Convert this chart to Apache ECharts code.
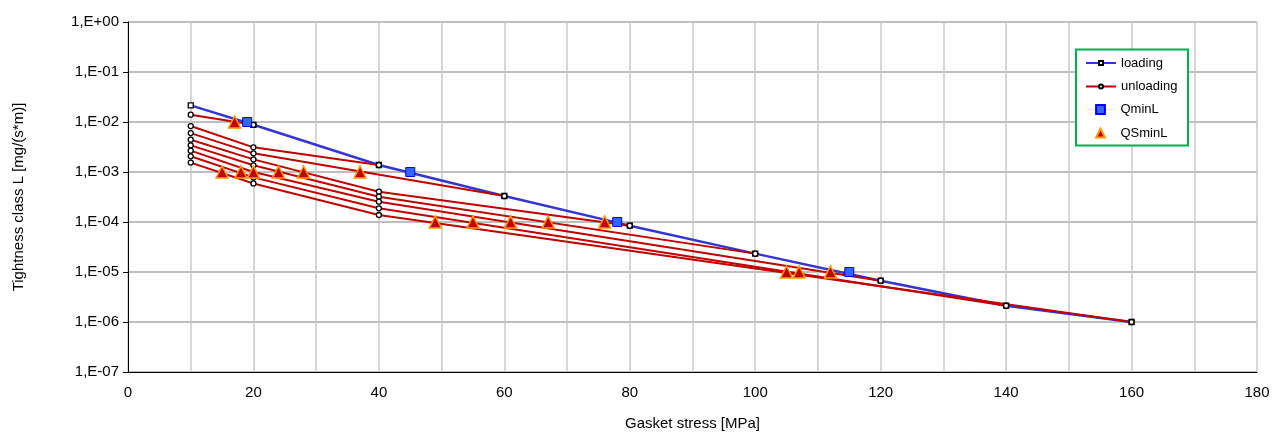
<!DOCTYPE html>
<html>
<head>
<meta charset="utf-8">
<script src="https://cdn.jsdelivr.net/npm/echarts@6/dist/echarts.min.js"></script>
<style>
html,body{margin:0;padding:0;background:#fff;}
#chart{width:1280px;height:432px;}
</style>
</head>
<body>
<div id="chart"></div>
<script>
// ---- data ----
const loadingX = [10, 20, 40, 60, 80, 100, 120, 140, 160];
const loadingL = [2.15e-2, 8.8e-3, 1.38e-3, 3.31e-4, 8.45e-5, 2.33e-5, 6.7e-6, 2.12e-6, 1.0e-6];

// unloading curves: stress points and leakage values
const unload20X = [20, 10];            const unload20L = [8.8e-3, 1.40e-2];
const unload40X = [40, 20, 10];        const unload40L = [1.38e-3, 3.11e-3, 8.3e-3];
const unload60X = [60, 20, 10];        const unload60L = [3.31e-4, 2.36e-3, 6.0e-3];
const unload80X = [80, 40, 20, 10];    const unload80L = [8.45e-5, 4.04e-4, 1.79e-3, 4.43e-3];
const unload100X = [100, 40, 20, 10];  const unload100L = [2.33e-5, 3.21e-4, 1.36e-3, 3.41e-3];
const unload120X = [120, 40, 20, 10];  const unload120L = [6.7e-6, 2.55e-4, 1.0e-3, 2.67e-3];
const unload140X = [140, 40, 20, 10];  const unload140L = [2.12e-6, 1.88e-4, 7.8e-4, 2.06e-3];
const unload160X = [160, 40, 20, 10];  const unload160L = [1.0e-6, 1.38e-4, 5.9e-4, 1.54e-3];

const qminX = [19, 45, 78, 115];
const qminL = [1e-2, 1e-3, 1e-4, 1e-5];

const qsminX = [17, 15, 18, 20, 24, 28, 37, 49, 55, 61, 67, 76, 105, 107, 112];
const qsminL = [1e-2, 1e-3, 1e-3, 1e-3, 1e-3, 1e-3, 1e-3, 1e-4, 1e-4, 1e-4, 1e-4, 1e-4, 1e-5, 1e-5, 1e-5];

const xTicks = [0, 20, 40, 60, 80, 100, 120, 140, 160, 180];

const unloadCurves = [
  [unload20X, unload20L], [unload40X, unload40L], [unload60X, unload60L],
  [unload80X, unload80L], [unload100X, unload100L], [unload120X, unload120L],
  [unload140X, unload140L], [unload160X, unload160L]
];

const zip = (xs, ys) => xs.map((x, i) => [x, ys[i]]);
const FONT = 'Liberation Sans, Arial, sans-serif';

const series = [];
series.push({
  name: 'loading', type: 'line', data: zip(loadingX, loadingL),
  symbol: 'rect', symbolSize: 5,
  itemStyle: { color: '#ffffff', borderColor: '#000000', borderWidth: 1.3 },
  lineStyle: { color: '#3535cf', width: 2.5 },
  z: 2, silent: true
});
unloadCurves.forEach(c => {
  series.push({
    name: 'unloading', type: 'line', data: zip(c[0], c[1]),
    symbol: 'circle', symbolSize: 5,
    itemStyle: { color: '#ffffff', borderColor: '#000000', borderWidth: 1.3 },
    lineStyle: { color: '#c00000', width: 2 },
    z: 3, silent: true
  });
});
series.push({
  name: 'QminL', type: 'line', data: zip(qminX, qminL),
  symbol: 'rect', symbolSize: 9,
  itemStyle: { color: '#3366ff', borderColor: '#0000ee', borderWidth: 1 },
  lineStyle: { color: '#ffff99', width: 1, opacity: 0 },
  z: 5, silent: true
});
series.push({
  name: 'QSminL', type: 'line', data: zip(qsminX, qsminL),
  symbol: 'triangle', symbolSize: 12,
  itemStyle: { color: '#c00000', borderColor: '#ff9900', borderWidth: 1.5 },
  lineStyle: { width: 0, opacity: 0 },
  z: 6, silent: true
});

const legendText = { fontFamily: FONT, fontSize: 13, color: '#000' };

const chart = echarts.init(document.getElementById('chart'), null, { renderer: 'canvas' });
chart.setOption({
  animation: false,
  backgroundColor: '#ffffff',
  textStyle: { fontFamily: FONT },
  grid: { left: 128, right: 23, top: 22, bottom: 60, containLabel: false, outerBoundsMode: 'none' },
  graphic: [{
    type: 'rect', left: 1075, top: 48.5, z: 50, silent: true,
    shape: { width: 112, height: 96 },
    style: { fill: '#ffffff', stroke: '#00b050', lineWidth: 2 }
  }],
  legend: [{
    orient: 'vertical', left: 1085, top: 56.5, z: 60,
    padding: 0, itemGap: 10.5, itemWidth: 30, itemHeight: 5,
    textStyle: legendText,
    data: ['loading', 'unloading'],
    selectedMode: false
  }, {
    orient: 'vertical', left: 1085, top: 103, z: 60,
    padding: 0, itemGap: 10.5, itemWidth: 30, itemHeight: 11,
    textStyle: legendText,
    data: [
      { name: 'QminL', lineStyle: { color: '#ffff99', width: 1, opacity: 1 } },
      { name: 'QSminL', lineStyle: { opacity: 0 } }
    ],
    selectedMode: false
  }],
  xAxis: {
    type: 'value', min: 0, max: 180, interval: 10,
    name: 'Gasket stress [MPa]', nameLocation: 'middle', nameGap: 44,
    nameTextStyle: { fontFamily: FONT, fontSize: 15, color: '#000' },
    axisLine: { show: true, lineStyle: { color: '#000', width: 1 } },
    axisTick: { show: false },
    axisLabel: {
      fontFamily: FONT, fontSize: 15, color: '#000', margin: 13,
      formatter: v => xTicks.indexOf(v) >= 0 ? String(v) : ''
    },
    splitLine: { show: true, lineStyle: { color: '#c8c8c8', width: 1.5 } }
  },
  yAxis: {
    type: 'log', logBase: 10, min: 1e-7, max: 1, splitNumber: 7,
    name: 'Tightness class L [mg/(s*m)]', nameLocation: 'middle', nameGap: 102,
    nameRotate: 90,
    nameTextStyle: { fontFamily: FONT, fontSize: 15, color: '#000' },
    axisLine: { show: true, lineStyle: { color: '#000', width: 1 } },
    axisTick: { show: true, length: 5, lineStyle: { color: '#000' } },
    axisLabel: {
      fontFamily: FONT, fontSize: 15, color: '#000', margin: 9,
      formatter: v => {
        const e = Math.round(Math.log10(v));
        return '1,E' + (e < 0 ? '-' : '+') + String(Math.abs(e)).padStart(2, '0');
      }
    },
    splitLine: { show: true, lineStyle: { color: '#a8a8a8', width: 1.5 } }
  },
  series: series
});
</script>
</body>
</html>
